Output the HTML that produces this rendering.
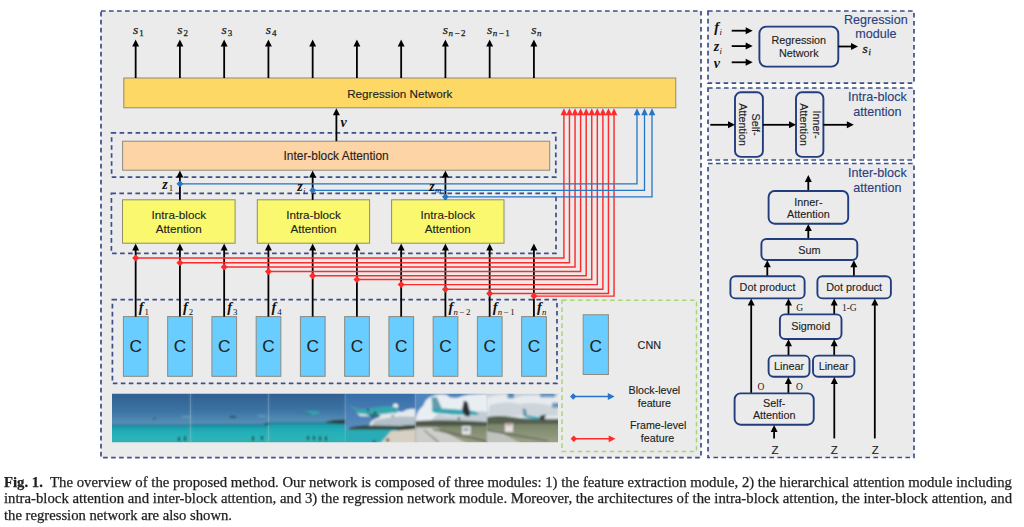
<!DOCTYPE html>
<html><head><meta charset="utf-8">
<style>
html,body{margin:0;padding:0;background:#fff;width:1024px;height:527px;overflow:hidden;}
svg{position:absolute;left:0;top:0;}
.cl{position:absolute;left:4px;font-family:"Liberation Serif",serif;font-size:14.6px;line-height:16px;color:#1e1e1e;-webkit-text-stroke:0.25px #1e1e1e;white-space:nowrap;transform-origin:0 0;}
</style></head><body>
<svg width="1024" height="527" viewBox="0 0 1024 527">
<rect x="101.00" y="11.00" width="600.00" height="446.70" fill="#ebebeb"/>
<rect x="101.00" y="11.00" width="600.00" height="446.70" fill="none" stroke="#3d4f89" stroke-width="1.7" stroke-dasharray="4.6 3.4"/>
<rect x="708.00" y="11.00" width="206.00" height="72.20" fill="#ebebeb"/>
<rect x="708.00" y="11.00" width="206.00" height="72.20" fill="none" stroke="#3d4f89" stroke-width="1.7" stroke-dasharray="4.6 3.4"/>
<rect x="708.00" y="88.00" width="206.00" height="72.00" fill="#ebebeb"/>
<rect x="708.00" y="88.00" width="206.00" height="72.00" fill="none" stroke="#3d4f89" stroke-width="1.7" stroke-dasharray="4.6 3.4"/>
<rect x="708.00" y="163.50" width="206.00" height="294.00" fill="#ebebeb"/>
<rect x="708.00" y="163.50" width="206.00" height="294.00" fill="none" stroke="#3d4f89" stroke-width="1.7" stroke-dasharray="4.6 3.4"/>
<rect x="111.60" y="132.80" width="444.20" height="44.30" fill="none" stroke="#3d4f89" stroke-width="1.7" stroke-dasharray="4.6 3.4"/>
<rect x="111.40" y="193.30" width="444.60" height="60.10" fill="none" stroke="#3d4f89" stroke-width="1.7" stroke-dasharray="4.6 3.4"/>
<rect x="112.40" y="299.60" width="444.60" height="83.80" fill="none" stroke="#3d4f89" stroke-width="1.7" stroke-dasharray="4.6 3.4"/>
<rect x="562.00" y="300.30" width="134.50" height="151.30" fill="none" stroke="#a8d878" stroke-width="1.5" stroke-dasharray="4.6 3.4"/>

<defs>
<linearGradient id="sky1" x1="0" y1="0" x2="0" y2="1"><stop offset="0" stop-color="#2f5b8d"/><stop offset="0.6" stop-color="#3a74a4"/><stop offset="1" stop-color="#5a92b8"/></linearGradient>
<linearGradient id="sea1" x1="0" y1="0" x2="0" y2="1"><stop offset="0" stop-color="#1596a8"/><stop offset="0.3" stop-color="#22adb6"/><stop offset="0.7" stop-color="#2db5b8"/><stop offset="1" stop-color="#3d9ea2"/></linearGradient>
<linearGradient id="sky4" x1="0" y1="0" x2="0" y2="1"><stop offset="0" stop-color="#336aa5"/><stop offset="1" stop-color="#6a9ccb"/></linearGradient>
<linearGradient id="field" x1="0" y1="0" x2="0" y2="1"><stop offset="0" stop-color="#7a8468"/><stop offset="1" stop-color="#a2a68c"/></linearGradient>
<filter id="bl" x="-5%" y="-5%" width="110%" height="110%"><feGaussianBlur stdDeviation="0.8"/></filter>
<clipPath id="strip"><rect x="112" y="393.8" width="446" height="48.5"/></clipPath>
</defs>

<g clip-path="url(#strip)"><g filter="url(#bl)">
<rect x="108" y="390" width="82.5" height="35.19999999999999" fill="url(#sky1)"/>
<rect x="108" y="425.2" width="82.5" height="20.80000000000001" fill="url(#sea1)"/>
<rect x="108" y="424.59999999999997" width="82.5" height="1.2" fill="#1f6f8a"/>
<rect x="190.5" y="390" width="78.10000000000002" height="34.69999999999999" fill="url(#sky1)"/>
<rect x="190.5" y="424.7" width="78.10000000000002" height="21.30000000000001" fill="url(#sea1)"/>
<rect x="190.5" y="424.09999999999997" width="78.10000000000002" height="1.2" fill="#1f6f8a"/>
<rect x="268.6" y="390" width="76.59999999999997" height="32.80000000000001" fill="url(#sky1)"/>
<rect x="268.6" y="422.8" width="76.59999999999997" height="23.19999999999999" fill="url(#sea1)"/>
<rect x="268.6" y="422.2" width="76.59999999999997" height="1.2" fill="#1f6f8a"/>
<ellipse cx="186" cy="417" rx="5" ry="1" fill="#7fa6c2" opacity="0.6"/>
<ellipse cx="262" cy="416" rx="5" ry="1" fill="#7fa6c2" opacity="0.6"/>
<ellipse cx="154.5" cy="418.6" rx="1.8" ry="0.9" fill="#3a5866"/>
<ellipse cx="233" cy="417" rx="3.5" ry="1.1" fill="#2a4656"/>
<path d="M303 411.5 Q312 410.5 320 411.8 L318 414 L306 414.2 Z" fill="#33a6ac"/>
<path d="M300 411 L312 413.8 L308 414.5 Z" fill="#2a6a80"/>
<path d="M325 423 Q330 419.5 345.2 419.8 L345.2 424 Z" fill="#2a3a32"/>
<path d="M263 424.5 Q266 422.5 268.6 422.8 L268.6 425 Z" fill="#2a3a32"/>
<rect x="178" y="437" width="2" height="4" fill="#1d2a30"/>
<rect x="184" y="436.5" width="2" height="4" fill="#1d2a30"/>
<rect x="252" y="436.5" width="2" height="4" fill="#1d2a30"/>
<rect x="261" y="436" width="2" height="4" fill="#1d2a30"/>
<rect x="307" y="436" width="2" height="4" fill="#1d2a30"/>
<rect x="313" y="436" width="2" height="4" fill="#1d2a30"/>
<rect x="319" y="436.5" width="2" height="4" fill="#1d2a30"/>
<rect x="325" y="436.5" width="2" height="4" fill="#1d2a30"/>
<rect x="345.2" y="390" width="70.3" height="56" fill="url(#sky4)"/>
<path d="M369 426 Q371 419 378 418 Q383 412 390 413 Q396 410 402 412 Q408 408 415.5 409 L415.5 428 L368 428 Z" fill="#e3e9ee"/>
<path d="M374 421 Q392 415 415.5 417 L415.5 427 L372 427 Z" fill="#b4c0c8"/>
<circle cx="395.5" cy="406" r="2.6" fill="#eef2f5"/>
<path d="M349 428 Q356 425 370 425.5 L400 426 Q410 424.5 415.5 425 L415.5 431 L349 431 Z" fill="#35443a"/>
<rect x="345.2" y="429.5" width="52" height="16.5" fill="#29acb6"/>
<path d="M391 431 Q405 430 415.5 429 L415.5 446 L378 446 Z" fill="#d8d0c2"/>
<path d="M347.5 405 L360 409 L370 411 L364 412 L356 410.5 Z" fill="#3d9ea4"/>
<path d="M356 410.5 Q372 407.5 385 406.5 Q393 405.5 397.5 408 Q399 410.5 396 413 Q385 415.5 370 416 Q360 416 356 413 Z" fill="#33a7b0"/>
<path d="M357 413.5 Q375 416 395 412.5 L393 414.5 Q378 417 360 416 Z" fill="#dfe8ea"/>
<path d="M366 414 L378 414 L381 416 L372 417 Z" fill="#2b6a72"/>
<circle cx="368" cy="410" r="1.2" fill="#333"/><circle cx="375" cy="412.5" r="1.2" fill="#333"/><circle cx="373" cy="417.6" r="1" fill="#333"/><circle cx="392.6" cy="416" r="0.9" fill="#333"/>
<circle cx="387.8" cy="440" r="1.6" fill="#2a2a2a"/><circle cx="374" cy="441.5" r="1.2" fill="#2a2a2a"/>
<rect x="415.5" y="390" width="71.5" height="56" fill="#4f86bd"/>
<path d="M415.5 420 Q417 410 423 406 Q426 398 432 396 Q440 393 447 395 L449 397 Q455 399 460 397 Q466 393.8 487 394 L487 424 L415.5 424 Z" fill="#e9eef2"/>
<path d="M438 414 Q455 410 470 413 Q480 410 487 412 L487 423 L428 423 Z" fill="#c3ccd4"/>
<path d="M431.5 397 L437 397.5 L442 409 L432.5 410 Z" fill="#5f9cae"/>
<path d="M432 408 Q450 408.5 470 410.5 Q479 411.5 478.5 414.5 Q470 416.5 450 415.5 Q437 414 432 411.5 Z" fill="#30a6b4"/>
<path d="M436 413 Q455 415.5 476 415 Q468 417 450 416.5 Q440 415.5 436 413 Z" fill="#e0e6e8"/>
<path d="M464 400.6 L467.5 402 L470 412 L469.5 416.6 L465 416 L462 410 Z" fill="#2a2e36"/>
<circle cx="458.9" cy="418.4" r="1.1" fill="#222"/>
<path d="M415.5 421 Q440 419.5 470 421 L487 422 L487 426.5 L415.5 426.5 Z" fill="#4d5749"/>
<rect x="415.5" y="426" width="71.5" height="20" fill="url(#field)"/>
<path d="M415.5 427.5 L436 427.5 L472 446 L415.5 446 Z" fill="#cdcdca"/>
<path d="M425 430 L440 442.3 L437 442.3 L423 430 Z" fill="#8e8e8c"/>
<path d="M433 428.5 L487 440.5 L487 442 L433 430 Z" fill="#5a5d5a"/>
<rect x="462" y="426.1" width="8.6" height="8.5" fill="#e4e4e0"/>
<rect x="463.5" y="428" width="5" height="3" fill="#8aa0b8"/>
<rect x="487" y="390" width="75" height="56" fill="#c7d0d8"/>
<path d="M487 398 Q497 393.8 507 395 L514 398 Q530 393.8 548 397 L562 396 L562 418 L487 418 Z" fill="#e7ebee"/>
<path d="M490 405 Q505 400 520 404 Q538 401 558 408 L558 416 L487 416 Z" fill="#cdd5db"/>
<rect x="507.6" y="390" width="6.4" height="8.3" fill="#5a8ab8"/>
<rect x="540" y="390" width="15" height="7.3" fill="#6a96c0"/>
<rect x="552" y="402.8" width="10" height="5" fill="#6a96c0"/>
<path d="M487 417 Q500 415 512 417 Q530 420 562 419 L562 424.5 L487 424.5 Z" fill="#55604f"/>
<rect x="487" y="424" width="75" height="22" fill="url(#field)"/>
<path d="M487 430 L498 431 L526 446 L487 446 Z" fill="#c0c2be"/>
<path d="M487.4 429.5 L548 440.5 L548 441.5 L487.4 431 Z" fill="#555855"/>
<path d="M522.5 408.6 L525.7 409 L527 415.5 L523.6 415.5 Z" fill="#5a8ea6"/>
<path d="M523.6 414.8 Q532 416 539.5 417 Q541 418.5 539 419.2 Q530 419 524 416.5 Z" fill="#33aab8"/>
<path d="M540.6 415.5 L545.9 414.5 L544 420.8 L539 419 Z" fill="#3a3e44"/>
<rect x="505" y="423.5" width="8" height="8.5" fill="#e2e0e0"/>
<rect x="506" y="424" width="6" height="2" fill="#d8a8b0"/>
</g></g>
<line x1="190.5" y1="393.8" x2="190.5" y2="442.3" stroke="#a8c0d0" stroke-width="0.5" opacity="0.6"/>
<line x1="268.6" y1="393.8" x2="268.6" y2="442.3" stroke="#a8c0d0" stroke-width="0.5" opacity="0.6"/>
<line x1="345.2" y1="393.8" x2="345.2" y2="442.3" stroke="#a8c0d0" stroke-width="0.5" opacity="0.6"/>
<line x1="415.5" y1="393.8" x2="415.5" y2="442.3" stroke="#a8c0d0" stroke-width="0.5" opacity="0.6"/>
<line x1="487" y1="393.8" x2="487" y2="442.3" stroke="#a8c0d0" stroke-width="0.5" opacity="0.6"/>
<rect x="123.80" y="78.00" width="552.00" height="29.80" fill="#fdd864" stroke="#8c8a80" stroke-width="1.0"/>
<rect x="122.60" y="141.20" width="427.10" height="29.00" fill="#fdd4a6" stroke="#8c8a80" stroke-width="1.0"/>
<rect x="122.50" y="199.80" width="112.60" height="43.40" fill="#f9f86e" stroke="#8f8d6a" stroke-width="1.0"/>
<text x="178.80" y="219.20" font-family="Liberation Sans" font-size="11.7" fill="#222222" stroke="#222222" stroke-width="0.12" text-anchor="middle" >Intra-block</text>
<text x="178.80" y="233.20" font-family="Liberation Sans" font-size="11.7" fill="#222222" stroke="#222222" stroke-width="0.12" text-anchor="middle" >Attention</text>
<rect x="257.30" y="199.80" width="112.30" height="43.40" fill="#f9f86e" stroke="#8f8d6a" stroke-width="1.0"/>
<text x="313.45" y="219.20" font-family="Liberation Sans" font-size="11.7" fill="#222222" stroke="#222222" stroke-width="0.12" text-anchor="middle" >Intra-block</text>
<text x="313.45" y="233.20" font-family="Liberation Sans" font-size="11.7" fill="#222222" stroke="#222222" stroke-width="0.12" text-anchor="middle" >Attention</text>
<rect x="391.60" y="199.80" width="112.40" height="43.40" fill="#f9f86e" stroke="#8f8d6a" stroke-width="1.0"/>
<text x="447.80" y="219.20" font-family="Liberation Sans" font-size="11.7" fill="#222222" stroke="#222222" stroke-width="0.12" text-anchor="middle" >Intra-block</text>
<text x="447.80" y="233.20" font-family="Liberation Sans" font-size="11.7" fill="#222222" stroke="#222222" stroke-width="0.12" text-anchor="middle" >Attention</text>
<rect x="123.41" y="316.60" width="24.70" height="59.70" fill="#69cdff" stroke="#8c8a80" stroke-width="1.0"/>
<text x="135.76" y="352.30" font-family="Liberation Sans" font-size="17.2" fill="#222222" stroke="#222222" stroke-width="0.12" text-anchor="middle" >C</text>
<rect x="167.66" y="316.60" width="24.70" height="59.70" fill="#69cdff" stroke="#8c8a80" stroke-width="1.0"/>
<text x="180.01" y="352.30" font-family="Liberation Sans" font-size="17.2" fill="#222222" stroke="#222222" stroke-width="0.12" text-anchor="middle" >C</text>
<rect x="211.91" y="316.60" width="24.70" height="59.70" fill="#69cdff" stroke="#8c8a80" stroke-width="1.0"/>
<text x="224.26" y="352.30" font-family="Liberation Sans" font-size="17.2" fill="#222222" stroke="#222222" stroke-width="0.12" text-anchor="middle" >C</text>
<rect x="256.16" y="316.60" width="24.70" height="59.70" fill="#69cdff" stroke="#8c8a80" stroke-width="1.0"/>
<text x="268.51" y="352.30" font-family="Liberation Sans" font-size="17.2" fill="#222222" stroke="#222222" stroke-width="0.12" text-anchor="middle" >C</text>
<rect x="300.41" y="316.60" width="24.70" height="59.70" fill="#69cdff" stroke="#8c8a80" stroke-width="1.0"/>
<text x="312.76" y="352.30" font-family="Liberation Sans" font-size="17.2" fill="#222222" stroke="#222222" stroke-width="0.12" text-anchor="middle" >C</text>
<rect x="344.66" y="316.60" width="24.70" height="59.70" fill="#69cdff" stroke="#8c8a80" stroke-width="1.0"/>
<text x="357.01" y="352.30" font-family="Liberation Sans" font-size="17.2" fill="#222222" stroke="#222222" stroke-width="0.12" text-anchor="middle" >C</text>
<rect x="388.91" y="316.60" width="24.70" height="59.70" fill="#69cdff" stroke="#8c8a80" stroke-width="1.0"/>
<text x="401.26" y="352.30" font-family="Liberation Sans" font-size="17.2" fill="#222222" stroke="#222222" stroke-width="0.12" text-anchor="middle" >C</text>
<rect x="433.16" y="316.60" width="24.70" height="59.70" fill="#69cdff" stroke="#8c8a80" stroke-width="1.0"/>
<text x="445.51" y="352.30" font-family="Liberation Sans" font-size="17.2" fill="#222222" stroke="#222222" stroke-width="0.12" text-anchor="middle" >C</text>
<rect x="477.41" y="316.60" width="24.70" height="59.70" fill="#69cdff" stroke="#8c8a80" stroke-width="1.0"/>
<text x="489.76" y="352.30" font-family="Liberation Sans" font-size="17.2" fill="#222222" stroke="#222222" stroke-width="0.12" text-anchor="middle" >C</text>
<rect x="521.66" y="316.60" width="24.70" height="59.70" fill="#69cdff" stroke="#8c8a80" stroke-width="1.0"/>
<text x="534.01" y="352.30" font-family="Liberation Sans" font-size="17.2" fill="#222222" stroke="#222222" stroke-width="0.12" text-anchor="middle" >C</text>
<rect x="583.20" y="314.80" width="25.20" height="59.70" fill="#69cdff" stroke="#8c8a80" stroke-width="1.0"/>
<text x="595.80" y="351.50" font-family="Liberation Sans" font-size="17.2" fill="#222222" stroke="#222222" stroke-width="0.12" text-anchor="middle" >C</text>
<text x="399.80" y="97.70" font-family="Liberation Sans" font-size="11.7" fill="#222222" stroke="#222222" stroke-width="0.12" text-anchor="middle" >Regression Network</text>
<text x="336.10" y="160.30" font-family="Liberation Sans" font-size="11.9" fill="#222222" stroke="#222222" stroke-width="0.12" text-anchor="middle" >Inter-block Attention</text>
<text x="649.30" y="349.30" font-family="Liberation Sans" font-size="10.8" fill="#222222" stroke="#222222" stroke-width="0.12" text-anchor="middle" >CNN</text>
<text x="654.40" y="393.90" font-family="Liberation Sans" font-size="10.7" fill="#222222" stroke="#222222" stroke-width="0.12" text-anchor="middle" >Block-level</text>
<text x="654.40" y="406.70" font-family="Liberation Sans" font-size="10.7" fill="#222222" stroke="#222222" stroke-width="0.12" text-anchor="middle" >feature</text>
<text x="658.10" y="428.90" font-family="Liberation Sans" font-size="10.7" fill="#222222" stroke="#222222" stroke-width="0.12" text-anchor="middle" >Frame-level</text>
<text x="657.50" y="441.70" font-family="Liberation Sans" font-size="10.7" fill="#222222" stroke="#222222" stroke-width="0.12" text-anchor="middle" >feature</text>
<line x1="135.66" y1="78.00" x2="135.66" y2="46.10" stroke="#000" stroke-width="1.8"/>
<path d="M132.16 46.60 L135.66 39.60 L139.16 46.60 Z" fill="#000"/>
<line x1="179.91" y1="78.00" x2="179.91" y2="46.10" stroke="#000" stroke-width="1.8"/>
<path d="M176.41 46.60 L179.91 39.60 L183.41 46.60 Z" fill="#000"/>
<line x1="224.16" y1="78.00" x2="224.16" y2="46.10" stroke="#000" stroke-width="1.8"/>
<path d="M220.66 46.60 L224.16 39.60 L227.66 46.60 Z" fill="#000"/>
<line x1="268.41" y1="78.00" x2="268.41" y2="46.10" stroke="#000" stroke-width="1.8"/>
<path d="M264.91 46.60 L268.41 39.60 L271.91 46.60 Z" fill="#000"/>
<line x1="312.66" y1="78.00" x2="312.66" y2="46.10" stroke="#000" stroke-width="1.8"/>
<path d="M309.16 46.60 L312.66 39.60 L316.16 46.60 Z" fill="#000"/>
<line x1="356.91" y1="78.00" x2="356.91" y2="46.10" stroke="#000" stroke-width="1.8"/>
<path d="M353.41 46.60 L356.91 39.60 L360.41 46.60 Z" fill="#000"/>
<line x1="401.16" y1="78.00" x2="401.16" y2="46.10" stroke="#000" stroke-width="1.8"/>
<path d="M397.66 46.60 L401.16 39.60 L404.66 46.60 Z" fill="#000"/>
<line x1="445.41" y1="78.00" x2="445.41" y2="46.10" stroke="#000" stroke-width="1.8"/>
<path d="M441.91 46.60 L445.41 39.60 L448.91 46.60 Z" fill="#000"/>
<line x1="489.66" y1="78.00" x2="489.66" y2="46.10" stroke="#000" stroke-width="1.8"/>
<path d="M486.16 46.60 L489.66 39.60 L493.16 46.60 Z" fill="#000"/>
<line x1="533.91" y1="78.00" x2="533.91" y2="46.10" stroke="#000" stroke-width="1.8"/>
<path d="M530.41 46.60 L533.91 39.60 L537.41 46.60 Z" fill="#000"/>
<line x1="336.40" y1="141.20" x2="336.40" y2="114.70" stroke="#000" stroke-width="1.8"/>
<path d="M332.90 115.20 L336.40 108.20 L339.90 115.20 Z" fill="#000"/>
<line x1="179.91" y1="199.80" x2="179.91" y2="176.90" stroke="#000" stroke-width="1.8"/>
<path d="M176.41 177.40 L179.91 170.40 L183.41 177.40 Z" fill="#000"/>
<line x1="312.66" y1="199.80" x2="312.66" y2="176.90" stroke="#000" stroke-width="1.8"/>
<path d="M309.16 177.40 L312.66 170.40 L316.16 177.40 Z" fill="#000"/>
<line x1="445.41" y1="199.80" x2="445.41" y2="176.90" stroke="#000" stroke-width="1.8"/>
<path d="M441.91 177.40 L445.41 170.40 L448.91 177.40 Z" fill="#000"/>
<line x1="135.66" y1="316.60" x2="135.66" y2="249.90" stroke="#000" stroke-width="1.8"/>
<path d="M132.16 250.40 L135.66 243.40 L139.16 250.40 Z" fill="#000"/>
<line x1="179.91" y1="316.60" x2="179.91" y2="249.90" stroke="#000" stroke-width="1.8"/>
<path d="M176.41 250.40 L179.91 243.40 L183.41 250.40 Z" fill="#000"/>
<line x1="224.16" y1="316.60" x2="224.16" y2="249.90" stroke="#000" stroke-width="1.8"/>
<path d="M220.66 250.40 L224.16 243.40 L227.66 250.40 Z" fill="#000"/>
<line x1="268.41" y1="316.60" x2="268.41" y2="249.90" stroke="#000" stroke-width="1.8"/>
<path d="M264.91 250.40 L268.41 243.40 L271.91 250.40 Z" fill="#000"/>
<line x1="312.66" y1="316.60" x2="312.66" y2="249.90" stroke="#000" stroke-width="1.8"/>
<path d="M309.16 250.40 L312.66 243.40 L316.16 250.40 Z" fill="#000"/>
<line x1="356.91" y1="316.60" x2="356.91" y2="249.90" stroke="#000" stroke-width="1.8"/>
<path d="M353.41 250.40 L356.91 243.40 L360.41 250.40 Z" fill="#000"/>
<line x1="401.16" y1="316.60" x2="401.16" y2="249.90" stroke="#000" stroke-width="1.8"/>
<path d="M397.66 250.40 L401.16 243.40 L404.66 250.40 Z" fill="#000"/>
<line x1="445.41" y1="316.60" x2="445.41" y2="249.90" stroke="#000" stroke-width="1.8"/>
<path d="M441.91 250.40 L445.41 243.40 L448.91 250.40 Z" fill="#000"/>
<line x1="489.66" y1="316.60" x2="489.66" y2="249.90" stroke="#000" stroke-width="1.8"/>
<path d="M486.16 250.40 L489.66 243.40 L493.16 250.40 Z" fill="#000"/>
<line x1="533.91" y1="316.60" x2="533.91" y2="249.90" stroke="#000" stroke-width="1.8"/>
<path d="M530.41 250.40 L533.91 243.40 L537.41 250.40 Z" fill="#000"/>
<polyline points="135.66,257.90 563.90,257.90 563.90,114.5" fill="none" stroke="#ff2b2b" stroke-width="1.45"/>
<path d="M560.60 115.2 L563.90 108.3 L567.20 115.2 Z" fill="#ff2b2b"/>
<polyline points="179.91,262.80 569.47,262.80 569.47,114.5" fill="none" stroke="#ff2b2b" stroke-width="1.45"/>
<path d="M566.17 115.2 L569.47 108.3 L572.77 115.2 Z" fill="#ff2b2b"/>
<polyline points="224.16,267.00 575.04,267.00 575.04,114.5" fill="none" stroke="#ff2b2b" stroke-width="1.45"/>
<path d="M571.74 115.2 L575.04 108.3 L578.34 115.2 Z" fill="#ff2b2b"/>
<polyline points="268.41,271.40 580.61,271.40 580.61,114.5" fill="none" stroke="#ff2b2b" stroke-width="1.45"/>
<path d="M577.31 115.2 L580.61 108.3 L583.91 115.2 Z" fill="#ff2b2b"/>
<polyline points="312.66,275.80 586.18,275.80 586.18,114.5" fill="none" stroke="#ff2b2b" stroke-width="1.45"/>
<path d="M582.88 115.2 L586.18 108.3 L589.48 115.2 Z" fill="#ff2b2b"/>
<polyline points="356.91,279.50 591.75,279.50 591.75,114.5" fill="none" stroke="#ff2b2b" stroke-width="1.45"/>
<path d="M588.45 115.2 L591.75 108.3 L595.05 115.2 Z" fill="#ff2b2b"/>
<polyline points="401.16,284.60 597.32,284.60 597.32,114.5" fill="none" stroke="#ff2b2b" stroke-width="1.45"/>
<path d="M594.02 115.2 L597.32 108.3 L600.62 115.2 Z" fill="#ff2b2b"/>
<polyline points="445.41,289.30 602.89,289.30 602.89,114.5" fill="none" stroke="#ff2b2b" stroke-width="1.45"/>
<path d="M599.59 115.2 L602.89 108.3 L606.19 115.2 Z" fill="#ff2b2b"/>
<polyline points="489.66,293.40 608.46,293.40 608.46,114.5" fill="none" stroke="#ff2b2b" stroke-width="1.45"/>
<path d="M605.16 115.2 L608.46 108.3 L611.76 115.2 Z" fill="#ff2b2b"/>
<polyline points="533.91,296.10 614.03,296.10 614.03,114.5" fill="none" stroke="#ff2b2b" stroke-width="1.45"/>
<path d="M610.73 115.2 L614.03 108.3 L617.33 115.2 Z" fill="#ff2b2b"/>
<path d="M132.16 257.90 L135.66 254.40 L139.16 257.90 L135.66 261.40 Z" fill="#ff2b2b"/>
<path d="M176.41 262.80 L179.91 259.30 L183.41 262.80 L179.91 266.30 Z" fill="#ff2b2b"/>
<path d="M220.66 267.00 L224.16 263.50 L227.66 267.00 L224.16 270.50 Z" fill="#ff2b2b"/>
<path d="M264.91 271.40 L268.41 267.90 L271.91 271.40 L268.41 274.90 Z" fill="#ff2b2b"/>
<path d="M309.16 275.80 L312.66 272.30 L316.16 275.80 L312.66 279.30 Z" fill="#ff2b2b"/>
<path d="M353.41 279.50 L356.91 276.00 L360.41 279.50 L356.91 283.00 Z" fill="#ff2b2b"/>
<path d="M397.66 284.60 L401.16 281.10 L404.66 284.60 L401.16 288.10 Z" fill="#ff2b2b"/>
<path d="M441.91 289.30 L445.41 285.80 L448.91 289.30 L445.41 292.80 Z" fill="#ff2b2b"/>
<path d="M486.16 293.40 L489.66 289.90 L493.16 293.40 L489.66 296.90 Z" fill="#ff2b2b"/>
<path d="M530.41 296.10 L533.91 292.60 L537.41 296.10 L533.91 299.60 Z" fill="#ff2b2b"/>
<polyline points="179.91,183.80 637.00,183.80 637.00,114.5" fill="none" stroke="#2476c8" stroke-width="1.3"/>
<path d="M633.70 115.2 L637.00 108.3 L640.30 115.2 Z" fill="#2476c8"/>
<path d="M176.51 183.80 L179.91 180.40 L183.31 183.80 L179.91 187.20 Z" fill="#2476c8"/>
<polyline points="312.66,190.30 644.50,190.30 644.50,114.5" fill="none" stroke="#2476c8" stroke-width="1.3"/>
<path d="M641.20 115.2 L644.50 108.3 L647.80 115.2 Z" fill="#2476c8"/>
<path d="M309.26 190.30 L312.66 186.90 L316.06 190.30 L312.66 193.70 Z" fill="#2476c8"/>
<polyline points="445.41,196.80 652.00,196.80 652.00,114.5" fill="none" stroke="#2476c8" stroke-width="1.3"/>
<path d="M648.70 115.2 L652.00 108.3 L655.30 115.2 Z" fill="#2476c8"/>
<path d="M442.01 196.80 L445.41 193.40 L448.81 196.80 L445.41 200.20 Z" fill="#2476c8"/>
<line x1="572.00" y1="396.50" x2="608.30" y2="396.50" stroke="#2476c8" stroke-width="1.5"/>
<path d="M607.80 393.10 L614.60 396.50 L607.80 399.90 Z" fill="#2476c8"/>
<path d="M570.00 396.50 L573.20 393.30 L576.40 396.50 L573.20 399.70 Z" fill="#2476c8"/>
<line x1="572.50" y1="438.80" x2="609.20" y2="438.80" stroke="#ff2b2b" stroke-width="1.5"/>
<path d="M608.70 435.40 L615.50 438.80 L608.70 442.20 Z" fill="#ff2b2b"/>
<path d="M570.60 438.80 L573.80 435.60 L577.00 438.80 L573.80 442.00 Z" fill="#ff2b2b"/>
<text x="133.06" y="33.90" font-family="Liberation Serif" font-size="13.5" font-style="italic" fill="#1a1a1a" stroke="#1a1a1a" stroke-width="0.25">s<tspan font-size="9" font-style="normal" font-weight="normal" dy="2.5" dx="0.9">1</tspan></text>
<text x="177.31" y="33.90" font-family="Liberation Serif" font-size="13.5" font-style="italic" fill="#1a1a1a" stroke="#1a1a1a" stroke-width="0.25">s<tspan font-size="9" font-style="normal" font-weight="normal" dy="2.5" dx="0.9">2</tspan></text>
<text x="221.56" y="33.90" font-family="Liberation Serif" font-size="13.5" font-style="italic" fill="#1a1a1a" stroke="#1a1a1a" stroke-width="0.25">s<tspan font-size="9" font-style="normal" font-weight="normal" dy="2.5" dx="0.9">3</tspan></text>
<text x="265.81" y="33.90" font-family="Liberation Serif" font-size="13.5" font-style="italic" fill="#1a1a1a" stroke="#1a1a1a" stroke-width="0.25">s<tspan font-size="9" font-style="normal" font-weight="normal" dy="2.5" dx="0.9">4</tspan></text>
<text x="442.81" y="33.90" font-family="Liberation Serif" font-size="13.5" font-style="italic" fill="#1a1a1a" stroke="#1a1a1a" stroke-width="0.25">s<tspan font-size="9" font-style="italic" font-weight="normal" dy="2.5" dx="0.3">n</tspan><tspan font-size="9" font-style="normal" font-weight="normal" dx="1.6">−</tspan><tspan font-size="9" font-style="normal" font-weight="normal" dx="1.4">2</tspan></text>
<text x="487.06" y="33.90" font-family="Liberation Serif" font-size="13.5" font-style="italic" fill="#1a1a1a" stroke="#1a1a1a" stroke-width="0.25">s<tspan font-size="9" font-style="italic" font-weight="normal" dy="2.5" dx="0.3">n</tspan><tspan font-size="9" font-style="normal" font-weight="normal" dx="1.6">−</tspan><tspan font-size="9" font-style="normal" font-weight="normal" dx="1.4">1</tspan></text>
<text x="531.31" y="33.90" font-family="Liberation Serif" font-size="13.5" font-style="italic" fill="#1a1a1a" stroke="#1a1a1a" stroke-width="0.25">s<tspan font-size="9" font-style="italic" font-weight="normal" dy="2.5" dx="0.3">n</tspan></text>
<text x="340.6" y="126.8" font-family="Liberation Serif" font-size="14" font-style="italic" font-weight="bold" fill="#111">v</text>
<text x="162.30" y="188.80" font-family="Liberation Serif" font-size="14" font-style="italic" font-weight="bold" fill="#111">z<tspan font-size="8.8" font-style="normal" font-weight="normal" dy="2.6" dx="0.9">1</tspan></text>
<text x="297.20" y="191.20" font-family="Liberation Serif" font-size="14" font-style="italic" font-weight="bold" fill="#111">z<tspan font-size="8.8" font-style="italic" font-weight="normal" dy="2.6" dx="0.3">i</tspan></text>
<text x="429.20" y="190.80" font-family="Liberation Serif" font-size="14" font-style="italic" font-weight="bold" fill="#111">z<tspan font-size="8.8" font-style="italic" font-weight="normal" dy="2.6" dx="0.3">m</tspan></text>
<text x="138.66" y="311.80" font-family="Liberation Serif" font-size="14.5" font-style="italic" font-weight="bold" fill="#111">f<tspan font-size="8.8" font-style="normal" font-weight="normal" dy="2.9" dx="0.9">1</tspan></text>
<text x="182.91" y="311.80" font-family="Liberation Serif" font-size="14.5" font-style="italic" font-weight="bold" fill="#111">f<tspan font-size="8.8" font-style="normal" font-weight="normal" dy="2.9" dx="0.9">2</tspan></text>
<text x="227.16" y="311.80" font-family="Liberation Serif" font-size="14.5" font-style="italic" font-weight="bold" fill="#111">f<tspan font-size="8.8" font-style="normal" font-weight="normal" dy="2.9" dx="0.9">3</tspan></text>
<text x="271.41" y="311.80" font-family="Liberation Serif" font-size="14.5" font-style="italic" font-weight="bold" fill="#111">f<tspan font-size="8.8" font-style="normal" font-weight="normal" dy="2.9" dx="0.9">4</tspan></text>
<text x="448.41" y="311.80" font-family="Liberation Serif" font-size="14.5" font-style="italic" font-weight="bold" fill="#111">f<tspan font-size="8.8" font-style="italic" font-weight="normal" dy="2.9" dx="0.3">n</tspan><tspan font-size="8.8" font-style="normal" font-weight="normal" dx="1.6">−</tspan><tspan font-size="8.8" font-style="normal" font-weight="normal" dx="1.4">2</tspan></text>
<text x="492.66" y="311.80" font-family="Liberation Serif" font-size="14.5" font-style="italic" font-weight="bold" fill="#111">f<tspan font-size="8.8" font-style="italic" font-weight="normal" dy="2.9" dx="0.3">n</tspan><tspan font-size="8.8" font-style="normal" font-weight="normal" dx="1.6">−</tspan><tspan font-size="8.8" font-style="normal" font-weight="normal" dx="1.4">1</tspan></text>
<text x="536.91" y="311.80" font-family="Liberation Serif" font-size="14.5" font-style="italic" font-weight="bold" fill="#111">f<tspan font-size="8.8" font-style="italic" font-weight="normal" dy="2.9" dx="0.3">n</tspan></text>
<text x="714.30" y="32.20" font-family="Liberation Serif" font-size="14.5" font-style="italic" font-weight="bold" fill="#111">f<tspan font-size="8.8" font-style="italic" font-weight="normal" dy="2.6" dx="0.3">i</tspan></text>
<text x="713.80" y="51.00" font-family="Liberation Serif" font-size="14" font-style="italic" font-weight="bold" fill="#111">z<tspan font-size="8.8" font-style="italic" font-weight="normal" dy="2.6" dx="0.3">i</tspan></text>
<text x="713.8" y="67.8" font-family="Liberation Serif" font-size="14" font-style="italic" font-weight="bold" fill="#111">v</text>
<line x1="731.70" y1="30.70" x2="746.20" y2="30.70" stroke="#000" stroke-width="1.8"/>
<path d="M745.70 27.20 L752.70 30.70 L745.70 34.20 Z" fill="#000"/>
<line x1="731.70" y1="46.10" x2="746.20" y2="46.10" stroke="#000" stroke-width="1.8"/>
<path d="M745.70 42.60 L752.70 46.10 L745.70 49.60 Z" fill="#000"/>
<line x1="731.70" y1="62.30" x2="746.20" y2="62.30" stroke="#000" stroke-width="1.8"/>
<path d="M745.70 58.80 L752.70 62.30 L745.70 65.80 Z" fill="#000"/>
<rect x="759.40" y="26.60" width="78.90" height="40.00" rx="7" fill="#ebebeb" stroke="#213d7e" stroke-width="1.9"/>
<text x="798.80" y="44.10" font-family="Liberation Sans" font-size="10.8" fill="#222222" stroke="#222222" stroke-width="0.12" text-anchor="middle" >Regression</text>
<text x="798.80" y="56.90" font-family="Liberation Sans" font-size="10.8" fill="#222222" stroke="#222222" stroke-width="0.12" text-anchor="middle" >Network</text>
<line x1="838.30" y1="46.50" x2="851.50" y2="46.50" stroke="#000" stroke-width="1.8"/>
<path d="M851.00 43.00 L858.00 46.50 L851.00 50.00 Z" fill="#000"/>
<text x="862.6" y="53.2" font-family="Liberation Serif" font-size="13.5" font-style="italic" fill="#1a1a1a" stroke="#1a1a1a" stroke-width="0.3">s<tspan font-size="8.5" dy="2.2" dx="0.6">i</tspan></text>
<text x="875.80" y="23.90" font-family="Liberation Sans" font-size="12.6" fill="#2a3d7f" stroke="#2a3d7f" stroke-width="0.12" text-anchor="middle" >Regression</text>
<text x="875.80" y="38.40" font-family="Liberation Sans" font-size="12.6" fill="#2a3d7f" stroke="#2a3d7f" stroke-width="0.12" text-anchor="middle" >module</text>
<rect x="735.00" y="92.30" width="27.90" height="64.60" rx="6" fill="#ebebeb" stroke="#213d7e" stroke-width="1.9"/>
<rect x="796.00" y="92.30" width="27.40" height="64.60" rx="6" fill="#ebebeb" stroke="#213d7e" stroke-width="1.9"/>
<line x1="710.30" y1="124.80" x2="728.50" y2="124.80" stroke="#000" stroke-width="1.8"/>
<path d="M728.00 121.30 L735.00 124.80 L728.00 128.30 Z" fill="#000"/>
<line x1="762.90" y1="124.80" x2="789.50" y2="124.80" stroke="#000" stroke-width="1.8"/>
<path d="M789.00 121.30 L796.00 124.80 L789.00 128.30 Z" fill="#000"/>
<line x1="823.40" y1="124.80" x2="847.30" y2="124.80" stroke="#000" stroke-width="1.8"/>
<path d="M846.80 121.30 L853.80 124.80 L846.80 128.30 Z" fill="#000"/>
<g transform="translate(748.9,124.6) rotate(90)"><text x="0" y="-3.2" font-family="Liberation Sans" font-size="10.8" fill="#222222" stroke="#222222" stroke-width="0.12" text-anchor="middle">Self-</text><text x="0" y="9.6" font-family="Liberation Sans" font-size="10.8" fill="#222222" stroke="#222222" stroke-width="0.12" text-anchor="middle">Attention</text></g>
<g transform="translate(809.7,124.6) rotate(90)"><text x="0" y="-3.2" font-family="Liberation Sans" font-size="10.8" fill="#222222" stroke="#222222" stroke-width="0.12" text-anchor="middle">Inner-</text><text x="0" y="9.6" font-family="Liberation Sans" font-size="10.8" fill="#222222" stroke="#222222" stroke-width="0.12" text-anchor="middle">Attention</text></g>
<text x="877.50" y="101.00" font-family="Liberation Sans" font-size="12.6" fill="#2a3d7f" stroke="#2a3d7f" stroke-width="0.12" text-anchor="middle" >Intra-block</text>
<text x="877.30" y="116.00" font-family="Liberation Sans" font-size="12.6" fill="#2a3d7f" stroke="#2a3d7f" stroke-width="0.12" text-anchor="middle" >attention</text>
<text x="877.30" y="176.80" font-family="Liberation Sans" font-size="12.6" fill="#2a3d7f" stroke="#2a3d7f" stroke-width="0.12" text-anchor="middle" >Inter-block</text>
<text x="877.30" y="191.60" font-family="Liberation Sans" font-size="12.6" fill="#2a3d7f" stroke="#2a3d7f" stroke-width="0.12" text-anchor="middle" >attention</text>
<line x1="808.30" y1="191.00" x2="808.30" y2="181.40" stroke="#000" stroke-width="1.8"/>
<path d="M804.80 181.90 L808.30 174.90 L811.80 181.90 Z" fill="#000"/>
<rect x="768.60" y="191.00" width="79.60" height="32.70" rx="6" fill="#ebebeb" stroke="#213d7e" stroke-width="1.9"/>
<text x="808.40" y="205.70" font-family="Liberation Sans" font-size="10.8" fill="#222222" stroke="#222222" stroke-width="0.12" text-anchor="middle" >Inner-</text>
<text x="808.40" y="218.00" font-family="Liberation Sans" font-size="10.8" fill="#222222" stroke="#222222" stroke-width="0.12" text-anchor="middle" >Attention</text>
<line x1="808.30" y1="239.00" x2="808.30" y2="230.40" stroke="#000" stroke-width="1.8"/>
<path d="M804.80 230.90 L808.30 223.90 L811.80 230.90 Z" fill="#000"/>
<rect x="761.40" y="239.00" width="95.90" height="21.00" rx="5" fill="#ebebeb" stroke="#213d7e" stroke-width="1.9"/>
<text x="809.30" y="253.80" font-family="Liberation Sans" font-size="10.8" fill="#222222" stroke="#222222" stroke-width="0.12" text-anchor="middle" >Sum</text>
<line x1="767.30" y1="276.20" x2="767.30" y2="266.70" stroke="#000" stroke-width="1.8"/>
<path d="M763.80 267.20 L767.30 260.20 L770.80 267.20 Z" fill="#000"/>
<line x1="853.90" y1="276.20" x2="853.90" y2="266.70" stroke="#000" stroke-width="1.8"/>
<path d="M850.40 267.20 L853.90 260.20 L857.40 267.20 Z" fill="#000"/>
<rect x="730.40" y="276.20" width="74.20" height="22.20" rx="5" fill="#ebebeb" stroke="#213d7e" stroke-width="1.9"/>
<rect x="817.40" y="276.20" width="73.50" height="22.20" rx="5" fill="#ebebeb" stroke="#213d7e" stroke-width="1.9"/>
<text x="767.50" y="291.00" font-family="Liberation Sans" font-size="10.8" fill="#222222" stroke="#222222" stroke-width="0.12" text-anchor="middle" >Dot product</text>
<text x="854.20" y="291.00" font-family="Liberation Sans" font-size="10.8" fill="#222222" stroke="#222222" stroke-width="0.12" text-anchor="middle" >Dot product</text>
<line x1="751.20" y1="393.40" x2="751.20" y2="305.10" stroke="#000" stroke-width="1.8"/>
<path d="M747.70 305.60 L751.20 298.60 L754.70 305.60 Z" fill="#000"/>
<line x1="788.50" y1="314.40" x2="788.50" y2="305.10" stroke="#000" stroke-width="1.8"/>
<path d="M785.00 305.60 L788.50 298.60 L792.00 305.60 Z" fill="#000"/>
<line x1="834.20" y1="314.40" x2="834.20" y2="305.10" stroke="#000" stroke-width="1.8"/>
<path d="M830.70 305.60 L834.20 298.60 L837.70 305.60 Z" fill="#000"/>
<line x1="874.80" y1="438.40" x2="874.80" y2="305.10" stroke="#000" stroke-width="1.8"/>
<path d="M871.30 305.60 L874.80 298.60 L878.30 305.60 Z" fill="#000"/>
<rect x="779.90" y="314.40" width="61.60" height="24.60" rx="5" fill="#ebebeb" stroke="#213d7e" stroke-width="1.9"/>
<text x="810.70" y="330.40" font-family="Liberation Sans" font-size="10.8" fill="#222222" stroke="#222222" stroke-width="0.12" text-anchor="middle" >Sigmoid</text>
<line x1="788.50" y1="355.60" x2="788.50" y2="345.70" stroke="#000" stroke-width="1.8"/>
<path d="M785.00 346.20 L788.50 339.20 L792.00 346.20 Z" fill="#000"/>
<line x1="834.20" y1="355.60" x2="834.20" y2="345.70" stroke="#000" stroke-width="1.8"/>
<path d="M830.70 346.20 L834.20 339.20 L837.70 346.20 Z" fill="#000"/>
<rect x="768.60" y="355.60" width="40.90" height="21.20" rx="5" fill="#ebebeb" stroke="#213d7e" stroke-width="1.9"/>
<rect x="813.00" y="355.60" width="41.40" height="21.20" rx="5" fill="#ebebeb" stroke="#213d7e" stroke-width="1.9"/>
<text x="789.00" y="369.90" font-family="Liberation Sans" font-size="10.8" fill="#222222" stroke="#222222" stroke-width="0.12" text-anchor="middle" >Linear</text>
<text x="833.70" y="369.90" font-family="Liberation Sans" font-size="10.8" fill="#222222" stroke="#222222" stroke-width="0.12" text-anchor="middle" >Linear</text>
<line x1="788.40" y1="393.40" x2="788.40" y2="383.50" stroke="#000" stroke-width="1.8"/>
<path d="M784.90 384.00 L788.40 377.00 L791.90 384.00 Z" fill="#000"/>
<line x1="834.30" y1="438.40" x2="834.30" y2="383.50" stroke="#000" stroke-width="1.8"/>
<path d="M830.80 384.00 L834.30 377.00 L837.80 384.00 Z" fill="#000"/>
<rect x="734.60" y="393.40" width="79.15" height="31.30" rx="6" fill="#ebebeb" stroke="#213d7e" stroke-width="1.9"/>
<text x="774.20" y="407.10" font-family="Liberation Sans" font-size="10.8" fill="#222222" stroke="#222222" stroke-width="0.12" text-anchor="middle" >Self-</text>
<text x="774.20" y="419.20" font-family="Liberation Sans" font-size="10.8" fill="#222222" stroke="#222222" stroke-width="0.12" text-anchor="middle" >Attention</text>
<line x1="774.10" y1="438.40" x2="774.10" y2="431.40" stroke="#000" stroke-width="1.8"/>
<path d="M770.60 431.90 L774.10 424.90 L777.60 431.90 Z" fill="#000"/>
<text x="775.00" y="454.40" font-family="Liberation Sans" font-size="11.5" fill="#222222" stroke="#222222" stroke-width="0.12" text-anchor="middle" >Z</text>
<text x="834.30" y="454.40" font-family="Liberation Sans" font-size="11.5" fill="#222222" stroke="#222222" stroke-width="0.12" text-anchor="middle" >Z</text>
<text x="875.30" y="454.40" font-family="Liberation Sans" font-size="11.5" fill="#222222" stroke="#222222" stroke-width="0.12" text-anchor="middle" >Z</text>
<text x="799.60" y="311.30" font-family="Liberation Serif" font-size="9.5" fill="#222" stroke="#222" stroke-width="0" text-anchor="middle" >G</text>
<text x="849.30" y="311.30" font-family="Liberation Serif" font-size="9.5" fill="#222" stroke="#222" stroke-width="0" text-anchor="middle" >1-G</text>
<text x="761.00" y="389.70" font-family="Liberation Serif" font-size="9.5" fill="#222" stroke="#222" stroke-width="0" text-anchor="middle" >O</text>
<text x="799.50" y="389.70" font-family="Liberation Serif" font-size="9.5" fill="#222" stroke="#222" stroke-width="0" text-anchor="middle" >O</text>
</svg>
<div class="cl" style="top:474.4px;transform:scaleX(1.0113)"><b>Fig. 1.</b>&nbsp; The overview of the proposed method. Our network is composed of three modules: 1) the feature extraction module, 2) the hierarchical attention module including</div>
<div class="cl" style="top:490.1px;transform:scaleX(1.0115)">intra-block attention and inter-block attention, and 3) the regression network module. Moreover, the architectures of the intra-block attention, the inter-block attention, and</div>
<div class="cl" style="top:507.2px;transform:scaleX(1.0046)">the regression network are also shown.</div>

</body></html>
